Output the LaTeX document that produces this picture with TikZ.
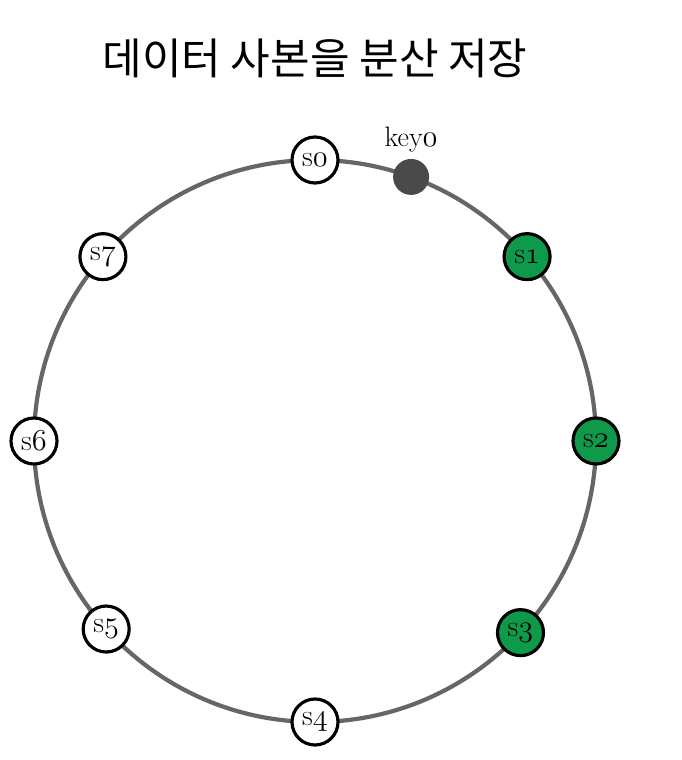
\documentclass[tikz,border=0pt]{standalone}
\usepackage{fontspec}
\newfontfamily\krfont{Noto Sans CJK KR}
\usepackage{tikz}
\usetikzlibrary{positioning}
\definecolor{ringgray}{HTML}{666666}
\definecolor{replgreen}{HTML}{0E9A4A}
\definecolor{keygray}{HTML}{4A4A4A}
\newcommand{\osdigit}[1]{{\usefont{OML}{cmm}{m}{it}#1}}

\begin{document}
\begin{tikzpicture}[x=0.02cm, y=0.02cm,
    ring/.style={draw=ringgray, line width=2.4pt},
    server/.style={circle, draw=black, line width=1.8pt, fill=white,
        minimum size=0.92cm, inner sep=0pt, font=\fontsize{17}{17}\selectfont},
    replica/.style={server, fill=replgreen},
    keydot/.style={circle, fill=keygray, minimum size=0.72cm, inner sep=0pt}]
    \useasboundingbox (-315,-319) rectangle (367,441);
    \coordinate (O) at (0,0);
    \node[font=\krfont\fontsize{24.5}{24.5}\selectfont] (title) at (0,383) {데이터 사본을 분산 저장};
    \draw[ring] (O) circle (281);
    % servers on the ring
    \foreach \n/\a/\st in {0/90/server, 1/41/replica, 2/0/replica, 3/-43/replica,
                           4/-90/server, 5/222/server, 6/180/server, 7/139/server}
        \node[\st] (s\n) at (\a:281) {s\osdigit{\n}};
    % key on the ring
    \node[keydot] (key0) at (70:281) {};
    \node[above=0cm of key0, font=\fontsize{16}{16}\selectfont] (key0label) {key\osdigit{0}};
\end{tikzpicture}
\end{document}
